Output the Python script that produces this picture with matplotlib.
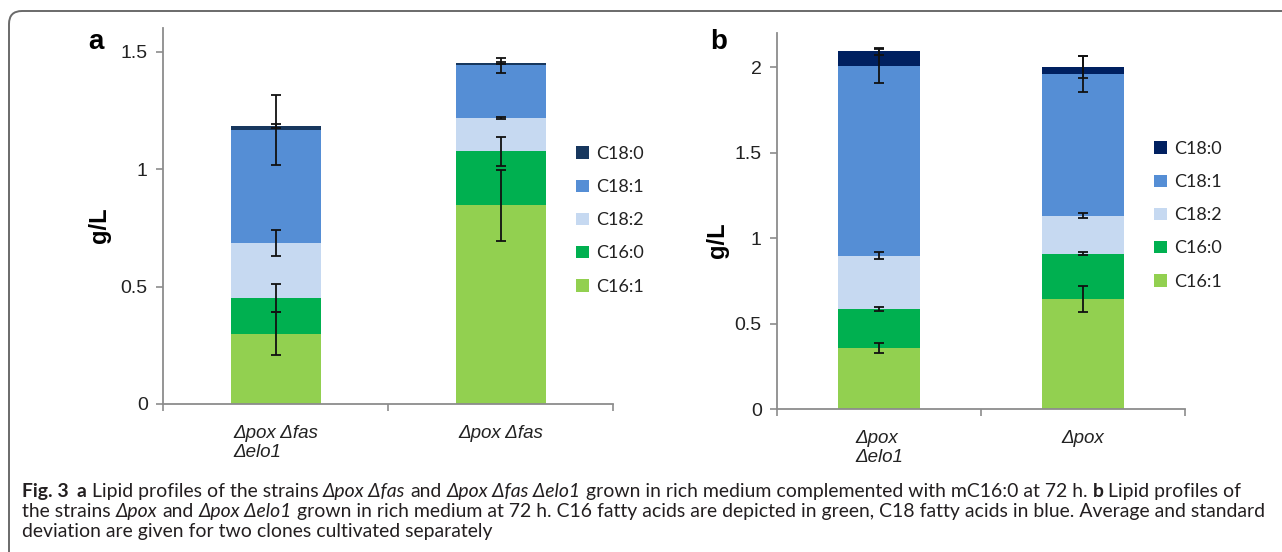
import numpy as np
import matplotlib
matplotlib.use('Agg')
import matplotlib.pyplot as plt
from matplotlib.path import Path
from matplotlib.patches import PathPatch
from matplotlib.ticker import FixedLocator

# panel a: Δpox Δfas Δelo1 / Δpox Δfas (g/L)
cats_a = ['\u0394pox \u0394fas\n\u0394elo1', '\u0394pox \u0394fas']
a_c16_1 = [0.30, 0.845]
a_c16_0 = [0.15, 0.23]
a_c18_2 = [0.235, 0.143]
a_c18_1 = [0.48, 0.223]
a_c18_0 = [0.018, 0.01]
a_err_c16_1 = [0.09, 0.15]
a_err_c16_0 = [0.06, 0.063]
a_err_c18_2 = [0.055, 0.004]
a_err_c18_1 = [0.15, 0.031]
a_err_c18_0 = [0.008, 0.006]

# panel b: Δpox Δelo1 / Δpox (g/L)
cats_b = ['\u0394pox\n\u0394elo1', '\u0394pox']
b_c16_1 = [0.358, 0.644]
b_c16_0 = [0.228, 0.265]
b_c18_2 = [0.312, 0.222]
b_c18_1 = [1.111, 0.83]
b_c18_0 = [0.084, 0.039]
b_err_c16_1 = [0.03, 0.077]
b_err_c16_0 = [0.012, 0.01]
b_err_c18_2 = [0.02, 0.015]
b_err_c18_1 = [0.1, 0.105]
b_err_c18_0 = [0.02, 0.064]

names = ['C16:1', 'C16:0', 'C18:2', 'C18:1', 'C18:0']
colors_a = ['#92D050', '#00B050', '#C6D9F1', '#558ED5', '#17375E']
colors_b = ['#92D050', '#00B050', '#C6D9F1', '#558ED5', '#002060']

W, H = 1282, 552
plt.rcParams['font.family'] = ['Liberation Sans', 'DejaVu Sans']
fig = plt.figure(figsize=(W / 100, H / 100), dpi=100)


def fx(px):
    return px / W


def fy(py):
    return 1 - py / H


def draw_panel(ax, cats, layers, errs, colors, ymax, yticks, ylabels):
    x = np.arange(len(cats))
    bottom = np.zeros(len(cats))
    handles = []
    for vals, err, col, name in zip(layers, errs, colors, names):
        vals = np.array(vals)
        b = ax.bar(x, vals, 0.4, bottom=bottom, color=col, label=name, zorder=2)
        top = bottom + vals
        ax.errorbar(x, top, yerr=err, fmt='none', ecolor='#111111', elinewidth=1.3,
                    capsize=3.5, capthick=1.3, zorder=3)
        bottom = top
        handles.append(b)
    ax.set_xlim(-0.5, 1.5)
    ax.set_ylim(0, ymax)
    ax.set_yticks(yticks)
    ax.set_yticklabels(ylabels)
    ax.set_xticks(x)
    ax.set_xticklabels(cats, fontstyle='italic', ha='center', multialignment='left',
                       linespacing=1.15)
    ax.xaxis.set_minor_locator(FixedLocator([-0.5, 0.5, 1.5]))
    ax.tick_params(axis='x', which='major', length=0, pad=15, labelsize=13.5, labelcolor='#222222')
    ax.tick_params(axis='x', which='minor', length=5, width=1.2, color='#8c8c8c', direction='out')
    ax.tick_params(axis='y', length=5, width=1.2, color='#8c8c8c', pad=6, labelsize=14,
                   labelcolor='#222222')
    for s in ['top', 'right']:
        ax.spines[s].set_visible(False)
    for s in ['left', 'bottom']:
        ax.spines[s].set_color('#8c8c8c')
        ax.spines[s].set_linewidth(1.3)
    return handles[::-1]


leg_kw = dict(loc='upper left', frameon=False,
              prop={'family': ['Lato', 'Liberation Sans'], 'size': 13},
              handlelength=0.7, handleheight=0.7, handletextpad=0.4, labelspacing=0.95,
              borderpad=0, borderaxespad=0, labelcolor='#222222')

ax_a = fig.add_axes([fx(163), fy(404), (613 - 163) / W, (404 - 28) / H])
ha = draw_panel(ax_a, cats_a, [a_c16_1, a_c16_0, a_c18_2, a_c18_1, a_c18_0],
                [a_err_c16_1, a_err_c16_0, a_err_c18_2, a_err_c18_1, a_err_c18_0],
                colors_a, 1.6, [0, 0.5, 1, 1.5], ['0', '0.5', '1', '1.5'])
fig.legend(ha, [h.get_label() for h in ha], bbox_to_anchor=(fx(576), fy(146)), **leg_kw)

ax_b = fig.add_axes([fx(777), fy(409), (1185 - 777) / W, (409 - 33) / H])
hb = draw_panel(ax_b, cats_b, [b_c16_1, b_c16_0, b_c18_2, b_c18_1, b_c18_0],
                [b_err_c16_1, b_err_c16_0, b_err_c18_2, b_err_c18_1, b_err_c18_0],
                colors_b, 2.2, [0, 0.5, 1, 1.5, 2], ['0', '0.5', '1', '1.5', '2'])
fig.legend(hb, [h.get_label() for h in hb], bbox_to_anchor=(fx(1154), fy(141)), **leg_kw)

# panel letters and y labels
fig.text(fx(96), fy(42), 'a', fontsize=20, fontweight='bold', ha='center', va='center')
fig.text(fx(719), fy(42), 'b', fontsize=20, fontweight='bold', ha='center', va='center')
fig.text(fx(99), fy(225), 'g/L', fontsize=17, fontweight='bold', rotation=90, ha='center', va='center')
fig.text(fx(718), fy(240), 'g/L', fontsize=17, fontweight='bold', rotation=90, ha='center', va='center')

# frame: top and left border with rounded corner
verts = [(fx(9), 0), (fx(9), fy(24)), (fx(9), fy(11)), (fx(22), fy(11)), (1, fy(11))]
codes = [Path.MOVETO, Path.LINETO, Path.CURVE3, Path.CURVE3, Path.LINETO]
fig.add_artist(PathPatch(Path(verts, codes), transform=fig.transFigure, fill=False,
                         edgecolor='#6a6a6a', linewidth=1.4))

# caption, written run by run
cap_family = ['Lato', 'Liberation Sans', 'DejaVu Sans']
cap_lines = [
    [('Fig. 3', 'b'), ('  ', 'n'), ('a', 'b'), (' Lipid profiles of the strains ', 'n'),
     ('\u0394pox \u0394fas', 'i'), (' and ', 'n'), ('\u0394pox \u0394fas \u0394elo1', 'i'),
     (' grown in rich medium complemented with mC16:0 at 72 h. ', 'n'), ('b', 'b'),
     (' Lipid profiles of', 'n')],
    [('the strains ', 'n'), ('\u0394pox', 'i'), (' and ', 'n'), ('\u0394pox \u0394elo1', 'i'),
     (' grown in rich medium at 72 h. C16 fatty acids are depicted in green, C18 fatty acids in blue. Average and standard', 'n')],
    [('deviation are given for two clones cultivated separately', 'n')],
]
cap_base = [497, 517, 537]
renderer = fig.canvas.get_renderer()


def style_kw(st, size):
    kw = dict(fontsize=size, family=cap_family, color='#231f20')
    if st == 'b':
        kw['fontweight'] = 'bold'
    if st == 'i':
        kw['fontstyle'] = 'italic'
    return kw


def text_w(s, st, size):
    t = fig.text(0, 0, s, **style_kw(st, size))
    w = t.get_window_extent(renderer).width
    t.remove()
    return w


def space_w(size):
    return text_w('a a', 'n', size) - text_w('aa', 'n', size)


def run_w(s, st, size):
    core = s.strip(' ')
    if not core:
        # the gap after "Fig. 3" is a little wider than one space
        return 1.6 * space_w(size)
    nsp = len(s) - len(s.lstrip(' ')) + len(s) - len(s.rstrip(' '))
    return text_w(core, st, size) + nsp * space_w(size)


def line_w(line, size):
    return sum(run_w(s, st, size) for s, st in line)


size = 12 * (1257 - 22) / line_w(cap_lines[1], 12)
for line, yb in zip(cap_lines, cap_base):
    xp = 22
    for s, st in line:
        lead = len(s) - len(s.lstrip(' '))
        core = s.strip(' ')
        if core:
            fig.text(fx(xp + lead * space_w(size)), fy(yb), core, ha='left', va='baseline',
                     **style_kw(st, size))
        xp += run_w(s, st, size)

fig.savefig('out.png', dpi=100)
